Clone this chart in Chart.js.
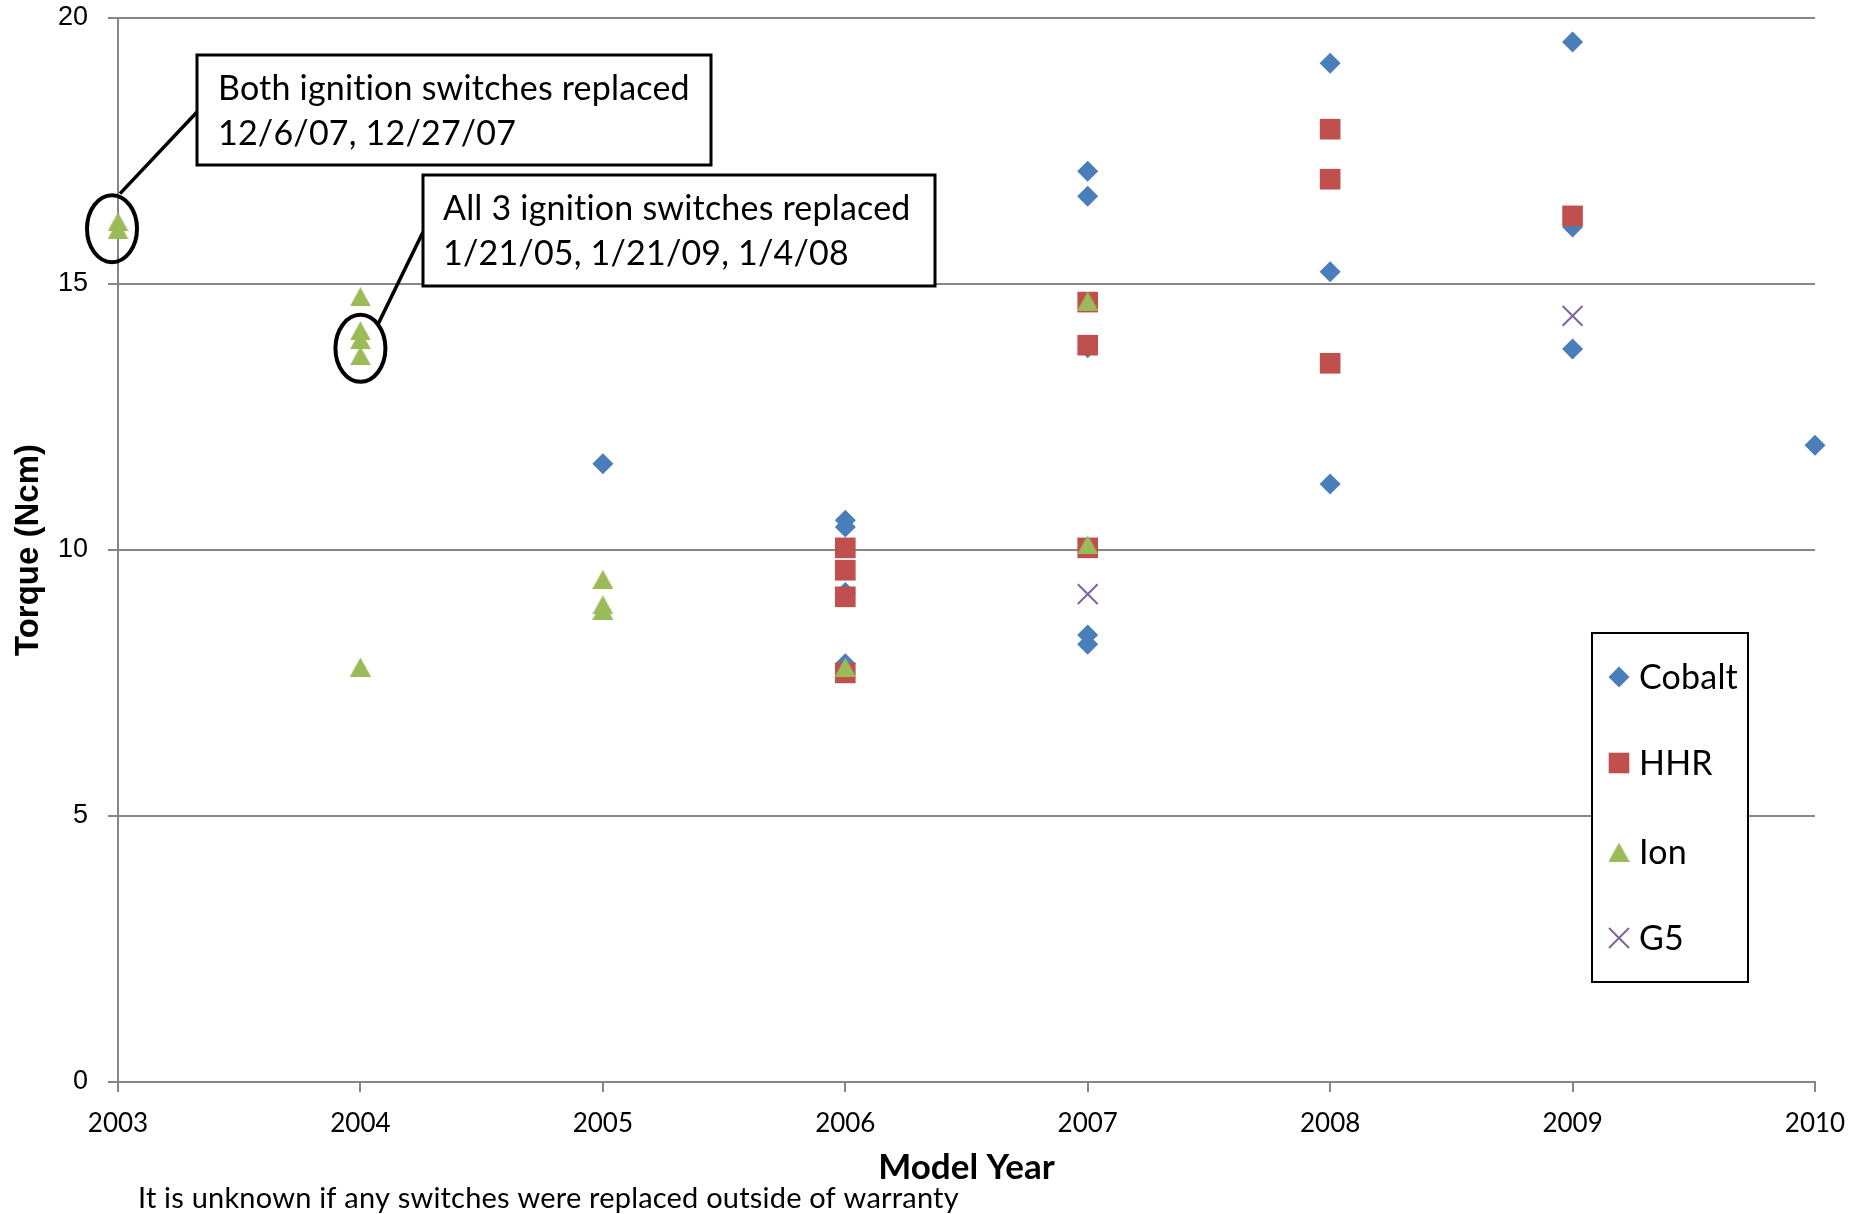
<!DOCTYPE html>
<html>
<head>
<meta charset="utf-8">
<style>
  html, body { margin: 0; padding: 0; background: #ffffff; }
  #wrap { width: 1854px; height: 1214px; }
</style>
<script src="https://cdn.jsdelivr.net/npm/chart.js@4.4.1/dist/chart.umd.min.js"></script>
</head>
<body>
<div id="wrap"><canvas id="c" width="1854" height="1214"></canvas></div>
<script>
// ---- data (model year, torque in Ncm) ----
const cobaltYears  = [2005, 2006, 2006, 2006, 2006, 2007, 2007, 2007, 2007, 2007, 2008, 2008, 2008, 2009, 2009, 2009, 2010];
const cobaltTorque = [11.62, 10.56, 10.43, 9.2, 7.86, 17.12, 16.65, 13.8, 8.4, 8.23, 19.15, 15.23, 11.24, 19.55, 16.07, 13.78, 11.97];

const hhrYears  = [2006, 2006, 2006, 2006, 2007, 2007, 2007, 2008, 2008, 2008, 2009];
const hhrTorque = [10.04, 9.62, 9.12, 7.69, 14.66, 13.85, 10.04, 17.91, 16.97, 13.51, 16.28];

const ionYears  = [2003, 2003, 2004, 2004, 2004, 2004, 2004, 2005, 2005, 2005, 2006, 2007, 2007];
const ionTorque = [16.17, 16.02, 14.76, 14.12, 13.95, 13.65, 7.8, 9.45, 8.97, 8.87, 7.8, 14.68, 10.1];

const g5Years  = [2007, 2009];
const g5Torque = [9.17, 14.4];

const seriesNames = ['Cobalt', 'HHR', 'Ion', 'G5'];
const yTicks = [0, 5, 10, 15, 20];
const xTicks = [2003, 2004, 2005, 2006, 2007, 2008, 2009, 2010];

const calloutTexts = [
  ['Both ignition switches replaced', '12/6/07, 12/27/07'],
  ['All 3 ignition switches replaced', '1/21/05, 1/21/09, 1/4/08']
];
const footnote = 'It is unknown if any switches were replaced outside of warranty';

// ---- styles ----
const COL = { cobalt: '#4A7EBB', hhr: '#C0504D', ion: '#9BBB59', g5: '#8064A2' };

function pts(xs, ys) { return xs.map((x, i) => ({ x: x, y: ys[i] })); }

function triCanvas(color, w, h) {
  const c = document.createElement('canvas');
  c.width = w; c.height = h;
  const g = c.getContext('2d');
  g.fillStyle = color;
  g.beginPath();
  g.moveTo(w / 2, 0); g.lineTo(w, h); g.lineTo(0, h); g.closePath();
  g.fill();
  return c;
}
const triImg = triCanvas(COL.ion, 21, 19);

function drawMarker(ctx, kind, x, y) {
  ctx.save();
  if (kind === 0) {
    ctx.fillStyle = COL.cobalt;
    ctx.beginPath();
    ctx.moveTo(x - 10.5, y); ctx.lineTo(x, y - 10.5); ctx.lineTo(x + 10.5, y); ctx.lineTo(x, y + 10.5);
    ctx.closePath(); ctx.fill();
  } else if (kind === 1) {
    ctx.fillStyle = COL.hhr;
    ctx.fillRect(x - 10.3, y - 10.3, 20.6, 20.6);
  } else if (kind === 2) {
    ctx.drawImage(triImg, x - triImg.width / 2, y - triImg.height / 2);
  } else {
    ctx.strokeStyle = COL.g5; ctx.lineWidth = 2;
    ctx.beginPath();
    ctx.moveTo(x - 10, y - 10); ctx.lineTo(x + 10, y + 10);
    ctx.moveTo(x + 10, y - 10); ctx.lineTo(x - 10, y + 10);
    ctx.stroke();
  }
  ctx.restore();
}

function setText(ctx, font) {
  ctx.font = font;
  if ('letterSpacing' in ctx) ctx.letterSpacing = '0.2px';
}

function noScalePadding(s) {
  s.paddingTop = 0; s.paddingBottom = 0; s.paddingLeft = 0; s.paddingRight = 0;
}

const overlayPlugin = {
  id: 'overlay',
  afterDraw(chart) {
    const ctx = chart.ctx;
    const xs = chart.scales.x, ys = chart.scales.y;
    const ca = chart.chartArea;
    ctx.save();

    // ellipses around the highlighted Ion points
    ctx.strokeStyle = '#000'; ctx.lineWidth = 4;
    const e1 = { x: xs.getPixelForValue(2003) - 6, y: ys.getPixelForValue(16.04) };
    const e2 = { x: xs.getPixelForValue(2004), y: ys.getPixelForValue(13.79) };
    [e1, e2].forEach(e => {
      ctx.beginPath();
      ctx.ellipse(e.x, e.y, 25, 33.5, 0, 0, Math.PI * 2);
      ctx.stroke();
    });

    // callout boxes
    const boxes = [
      { l: ca.left + 79, t: ca.top + 37, w: 514, h: 110, tx: ca.left + 100 },
      { l: ca.left + 305, t: ca.top + 157, w: 512, h: 111, tx: ca.left + 325 }
    ];
    // connectors
    ctx.lineWidth = 3.5;
    ctx.beginPath();
    ctx.moveTo(e1.x + 8, e1.y - 35); ctx.lineTo(boxes[0].l, boxes[0].t + 57);
    ctx.moveTo(e2.x + 18, e2.y - 25); ctx.lineTo(boxes[1].l, boxes[1].t + 57);
    ctx.stroke();

    boxes.forEach((b, i) => {
      ctx.fillStyle = '#fff';
      ctx.fillRect(b.l, b.t, b.w, b.h);
      ctx.lineWidth = 3;
      ctx.strokeStyle = '#000';
      ctx.strokeRect(b.l, b.t, b.w, b.h);
      ctx.fillStyle = '#000';
      setText(ctx, '34px Lato');
      ctx.textAlign = 'left';
      ctx.textBaseline = 'alphabetic';
      ctx.fillText(calloutTexts[i][0], b.tx, b.t + 45);
      ctx.fillText(calloutTexts[i][1], b.tx, b.t + 90);
    });

    // legend
    const lg = { l: 1592, t: 633, w: 156, h: 349 };
    ctx.fillStyle = '#fff';
    ctx.fillRect(lg.l, lg.t, lg.w, lg.h);
    ctx.lineWidth = 2; ctx.strokeStyle = '#000';
    ctx.strokeRect(lg.l, lg.t, lg.w, lg.h);
    const rowY = [677, 763, 852, 938];
    seriesNames.forEach((n, i) => {
      drawMarker(ctx, i, lg.l + 27, rowY[i]);
      ctx.fillStyle = '#000';
      setText(ctx, '34px Lato');
      ctx.textAlign = 'left';
      ctx.textBaseline = 'middle';
      ctx.fillText(n, lg.l + 47, rowY[i] + 1);
    });

    // footnote
    ctx.fillStyle = '#000';
    setText(ctx, '29px Lato');
    ctx.textAlign = 'left';
    ctx.textBaseline = 'alphabetic';
    ctx.fillText(footnote, 138, 1208);
    ctx.restore();
  }
};

const chart = new Chart(document.getElementById('c'), {
  type: 'scatter',
  data: {
    datasets: [
      { label: 'Cobalt', data: pts(cobaltYears, cobaltTorque), pointStyle: 'rectRot', pointRadius: 10.5, pointHoverRadius: 10.5,
        backgroundColor: COL.cobalt, borderColor: COL.cobalt, pointBorderWidth: 0, clip: false, order: 3 },
      { label: 'HHR', data: pts(hhrYears, hhrTorque), pointStyle: 'rect', pointRadius: 14.6, pointHoverRadius: 14.6,
        backgroundColor: COL.hhr, borderColor: COL.hhr, pointBorderWidth: 0, clip: false, order: 2 },
      { label: 'Ion', data: pts(ionYears, ionTorque), pointStyle: triImg, pointRadius: 12,
        backgroundColor: COL.ion, borderColor: COL.ion, pointBorderWidth: 0, clip: false, order: 1 },
      { label: 'G5', data: pts(g5Years, g5Torque), pointStyle: 'crossRot', pointRadius: 14, pointHoverRadius: 14,
        backgroundColor: COL.g5, borderColor: COL.g5, pointBorderWidth: 2, clip: false, order: 0 }
    ]
  },
  options: {
    responsive: false,
    animation: false,
    devicePixelRatio: 1,
    layout: { padding: { left: 0, right: 39, top: 18, bottom: 0 } },
    plugins: { legend: { display: false }, tooltip: { enabled: false }, title: { display: false } },
    events: [],
    scales: {
      x: {
        type: 'linear', min: xTicks[0], max: xTicks[xTicks.length - 1],
        afterFit(s) { s.height = 132; noScalePadding(s); },
        afterBuildTicks(s) { s.ticks = xTicks.map(v => ({ value: v })); },
        grid: { drawOnChartArea: false, drawTicks: true, tickLength: 10, color: '#868686', lineWidth: 2 },
        border: { display: true, color: '#868686', width: 2 },
        ticks: { color: '#000', font: { family: 'Lato', size: 26 }, padding: 16, maxRotation: 0, autoSkip: false,
                 callback: v => String(v) },
        title: { display: true, text: 'Model Year', color: '#000', font: { family: 'Lato', size: 35, weight: 'bold' },
                 padding: { top: 0, bottom: 25 } }
      },
      y: {
        type: 'linear', min: yTicks[0], max: yTicks[yTicks.length - 1],
        afterFit(s) { s.width = 118; noScalePadding(s); },
        afterBuildTicks(s) { s.ticks = yTicks.map(v => ({ value: v })); },
        grid: { drawOnChartArea: true, drawTicks: true, tickLength: 10, color: '#868686', lineWidth: 2 },
        border: { display: true, color: '#868686', width: 2 },
        ticks: { color: '#000', font: { family: 'Liberation Sans', size: 27 }, padding: 20, callback: v => String(v) },
        title: { display: true, text: 'Torque (Ncm)', color: '#000', font: { family: 'Liberation Sans', size: 33, weight: 'bold' },
                 padding: { top: 9, bottom: 0 } }
      }
    }
  },
  plugins: [overlayPlugin]
});
</script>
</body>
</html>
